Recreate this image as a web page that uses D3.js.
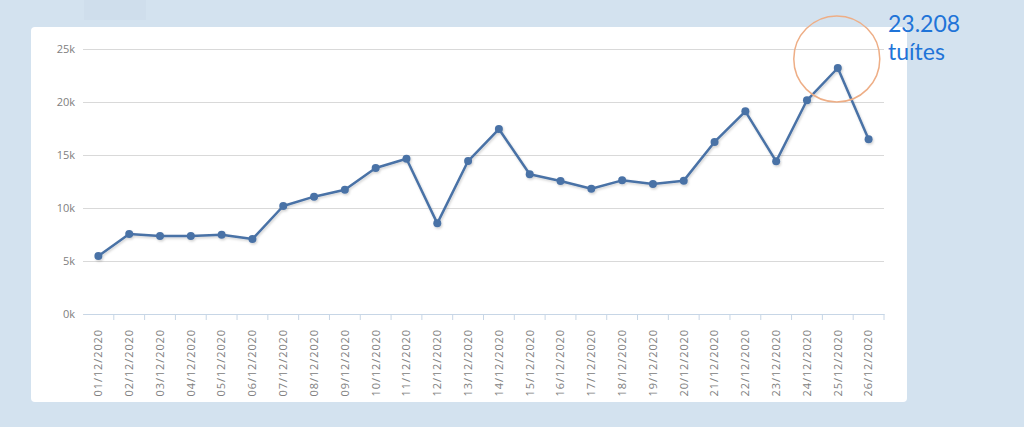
<!DOCTYPE html>
<html>
<meta charset="utf-8">
<style>
  body { margin: 0; padding: 0; background-color: #d3e2ef; font-family: Lato, sans-serif; }
  svg { display: block; }
  .tick text { font-family: "Open Sans", sans-serif; font-size: 11px; fill: #808080; }
</style>
<body>
<div id="chart"></div>
<script src="https://d3js.org/d3.v7.min.js"></script>
<script>
// dates on the x axis
var dates = ["01/12/2020","02/12/2020","03/12/2020","04/12/2020","05/12/2020","06/12/2020",
  "07/12/2020","08/12/2020","09/12/2020","10/12/2020","11/12/2020","12/12/2020","13/12/2020",
  "14/12/2020","15/12/2020","16/12/2020","17/12/2020","18/12/2020","19/12/2020","20/12/2020",
  "21/12/2020","22/12/2020","23/12/2020","24/12/2020","25/12/2020","26/12/2020"];
// tweets per day
var tweets = [5470, 7550, 7360, 7350, 7480, 7070, 10190, 11070, 11730, 13770, 14650, 8550, 14430,
  17450, 13180, 12550, 11820, 12610, 12260, 12580, 16230, 19120, 14400, 20160, 23208, 16480];
var yTicks = [0, 5000, 10000, 15000, 20000, 25000];
var peakLabel = ["23.208", "tuítes"];

var W = 1024, H = 427;
var margin = {top: 49, right: 140, bottom: 113, left: 83},
    width = W - margin.left - margin.right,
    height = H - margin.top - margin.bottom;

var root = d3.select("#chart").append("svg").attr("width", W).attr("height", H);

// soft background patches
root.append("rect").attr("x", 0).attr("y", 0).attr("width", W).attr("height", H).attr("fill", "#d3e2ef");
root.append("rect").attr("x", 84).attr("y", 0).attr("width", 62).attr("height", 20).attr("fill", "#cfdeec");

// white card
root.append("rect").attr("x", 31).attr("y", 27).attr("width", 876).attr("height", 375)
  .attr("rx", 4).attr("fill", "#fff");

var defs = root.append("defs");
var f = defs.append("filter").attr("id", "shadow").attr("x", "-5%").attr("y", "-5%").attr("width", "110%").attr("height", "120%");
f.append("feDropShadow").attr("dx", 1).attr("dy", 1.5).attr("stdDeviation", 1.2)
  .attr("flood-color", "#000").attr("flood-opacity", 0.18);

var svg = root.append("g").attr("transform", "translate(" + margin.left + "," + margin.top + ")");

var x = d3.scaleBand().domain(dates).range([0, width]);
var y = d3.scaleLinear().domain([0, 25000]).range([height, 0]);

// gridlines + y labels
var yAxis = svg.append("g")
  .call(d3.axisLeft(y).tickValues(yTicks).tickSize(-width).tickPadding(8)
    .tickFormat(function(d){ return (d / 1000) + "k"; }));
yAxis.select(".domain").remove();
yAxis.selectAll(".tick line").attr("stroke", "#d9d9d9").attr("stroke-width", 1);

// x axis
var xAxis = svg.append("g").attr("transform", "translate(0," + height + ")")
  .call(d3.axisBottom(x).tickSize(0));
xAxis.select(".domain").attr("stroke", "#c7d6e6").attr("stroke-width", 1.2);
xAxis.selectAll(".tick text")
  .attr("transform", "rotate(-90)")
  .attr("text-anchor", "end")
  .attr("x", -15)
  .attr("y", 0)
  .attr("dy", "0.35em")
  .style("letter-spacing", "0.9px");
// tick marks on band boundaries
svg.append("g").selectAll("line")
  .data(dates.slice(1).concat(["end"]))
  .enter().append("line")
  .attr("x1", function(d, i){ return i < dates.length - 1 ? x(d) : width; })
  .attr("x2", function(d, i){ return i < dates.length - 1 ? x(d) : width; })
  .attr("y1", height).attr("y2", height + 6)
  .attr("stroke", "#c7d6e6").attr("stroke-width", 1);

var cx = function(d, i){ return x(dates[i]) + x.bandwidth() / 2; };

var g = svg.append("g").attr("filter", "url(#shadow)");
g.append("path")
  .datum(tweets)
  .attr("d", d3.line().x(cx).y(function(d){ return y(d); }))
  .attr("fill", "none")
  .attr("stroke", "#4a72a6")
  .attr("stroke-width", 2.5)
  .attr("stroke-linejoin", "round");
g.selectAll("circle").data(tweets).enter().append("circle")
  .attr("cx", cx).attr("cy", function(d){ return y(d); })
  .attr("r", 4).attr("fill", "#4a72a6");

// peak annotation
var peakI = tweets.indexOf(d3.max(tweets));
var px = margin.left + cx(tweets[peakI], peakI), py = margin.top + y(tweets[peakI]);
root.append("circle").attr("cx", px - 1).attr("cy", py - 9).attr("r", 43)
  .attr("fill", "none").attr("stroke", "#eeae86").attr("stroke-width", 1.5);
root.append("text").attr("x", 888).attr("y", 32).text(peakLabel[0])
  .attr("fill", "#1f74d8").style("font-size", "23px").style("font-family", "Lato, sans-serif");
root.append("text").attr("x", 888).attr("y", 60).text(peakLabel[1])
  .attr("fill", "#1f74d8").style("font-size", "23px").style("font-family", "Lato, sans-serif");
</script>
</body>
</html>
